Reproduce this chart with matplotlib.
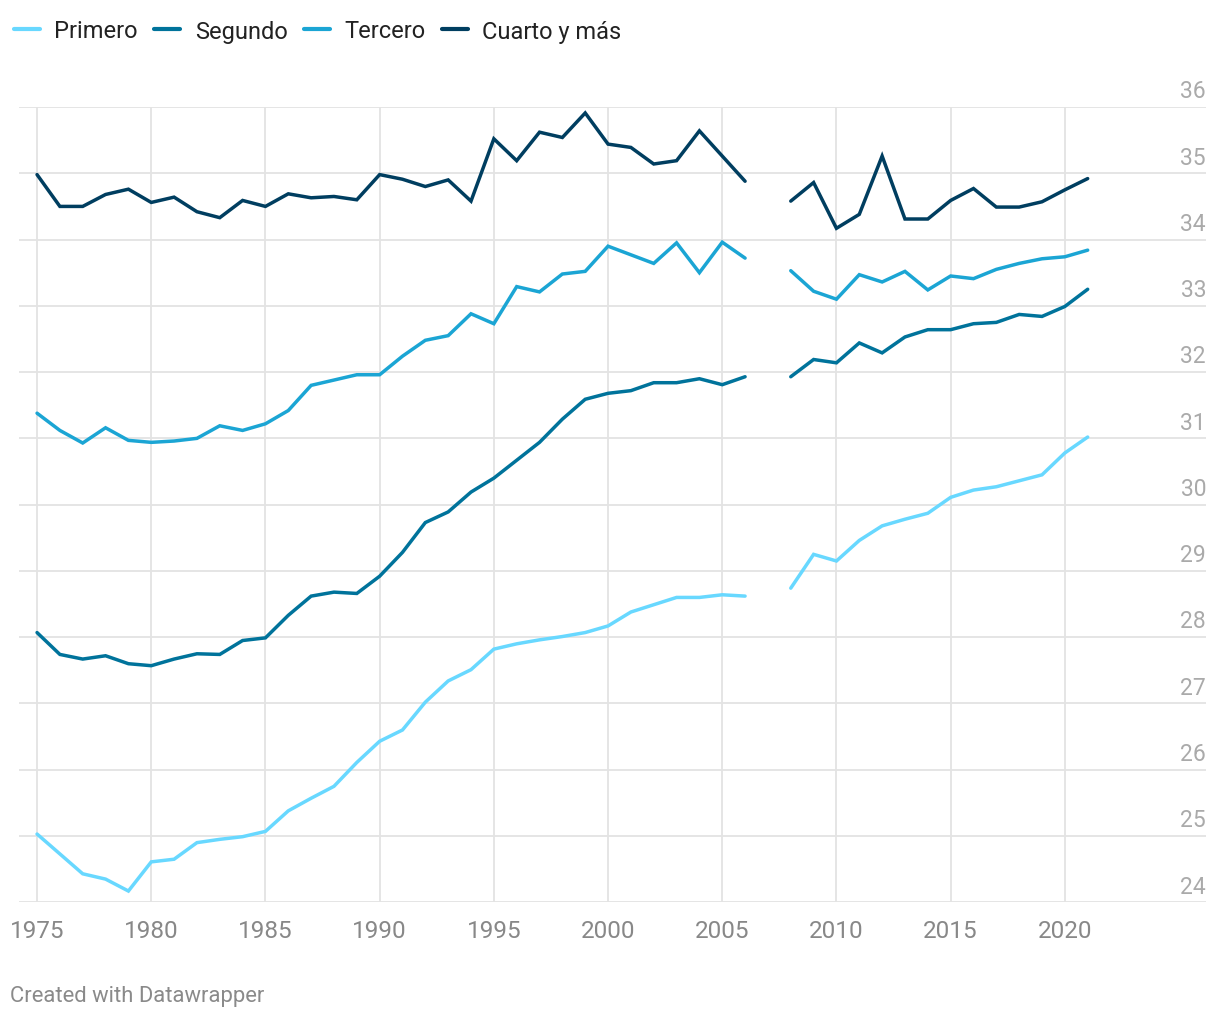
import numpy as np
import matplotlib
matplotlib.use("Agg")
import matplotlib.pyplot as plt

plt.rcParams['font.family'] = ['Roboto', 'DejaVu Sans']

years = list(range(1975, 2022))
nan = np.nan

primero = [25.03, 24.73, 24.43, 24.35, 24.17, 24.61, 24.65, 24.90, 24.95, 24.99,
           25.07, 25.38, 25.57, 25.75, 26.11, 26.43, 26.60, 27.02, 27.34, 27.51,
           27.82, 27.90, 27.96, 28.01, 28.07, 28.17, 28.38, 28.49, 28.60, 28.60,
           28.64, 28.62, nan, 28.74, 29.25, 29.15, 29.46, 29.68, 29.78, 29.87,
           30.11, 30.22, 30.27, 30.36, 30.45, 30.78, 31.02]

segundo = [28.07, 27.74, 27.67, 27.72, 27.60, 27.57, 27.67, 27.75, 27.74, 27.95,
           27.99, 28.33, 28.62, 28.68, 28.66, 28.92, 29.28, 29.73, 29.89, 30.19,
           30.40, 30.67, 30.94, 31.29, 31.59, 31.68, 31.72, 31.84, 31.84, 31.90,
           31.81, 31.93, nan, 31.93, 32.19, 32.14, 32.44, 32.29, 32.53, 32.64,
           32.64, 32.73, 32.75, 32.87, 32.84, 32.99, 33.25]

tercero = [31.38, 31.12, 30.93, 31.16, 30.97, 30.94, 30.96, 31.00, 31.19, 31.12,
           31.22, 31.42, 31.80, 31.88, 31.96, 31.96, 32.24, 32.48, 32.55, 32.88,
           32.73, 33.29, 33.21, 33.48, 33.52, 33.90, 33.77, 33.64, 33.95, 33.50,
           33.96, 33.72, nan, 33.53, 33.22, 33.10, 33.47, 33.36, 33.52, 33.24,
           33.45, 33.41, 33.55, 33.64, 33.71, 33.74, 33.84]

cuarto = [34.98, 34.50, 34.50, 34.68, 34.76, 34.56, 34.64, 34.42, 34.33, 34.59,
          34.50, 34.69, 34.63, 34.65, 34.60, 34.98, 34.91, 34.80, 34.90, 34.58,
          35.52, 35.19, 35.62, 35.54, 35.91, 35.44, 35.39, 35.14, 35.19, 35.64,
          35.26, 34.88, nan, 34.58, 34.86, 34.17, 34.38, 35.26, 34.31, 34.31,
          34.59, 34.77, 34.49, 34.49, 34.57, 34.75, 34.92]

series_names = ["Primero", "Segundo", "Tercero", "Cuarto y más"]
series_colors = ["#68d8ff", "#00739b", "#1ba5d4", "#003e60"]
x_ticks = [1975, 1980, 1985, 1990, 1995, 2000, 2005, 2010, 2015, 2020]
y_ticks = [24, 25, 26, 27, 28, 29, 30, 31, 32, 33, 34, 35, 36]

W, H = 1220, 1020
fig = plt.figure(figsize=(W / 100, H / 100), dpi=100)
left, right = 19 / W, 1206 / W
bottom, top = (H - 903.3) / H, (H - 108) / H
ax = fig.add_axes([left, bottom, right - left, top - bottom])

ax.set_xlim(1974.21, 2026.18)
ax.set_ylim(24, 36)

for name, col, vals in zip(series_names, series_colors, [primero, segundo, tercero, cuarto]):
    ax.plot(years, vals, color=col, lw=2.5, label=name, solid_capstyle='round',
            solid_joinstyle='miter', zorder=3)

grid_col = "#e3e3e3"
ax.set_yticks(y_ticks)
ax.set_yticklabels([])
ax.set_xticks(x_ticks)
ax.set_xticklabels([str(t) for t in x_ticks], color="#888888", fontsize=17.5)
ax.tick_params(axis='x', length=0, pad=12)
ax.tick_params(axis='y', length=0)
ax.grid(True, color=grid_col, lw=1.3, zorder=0)
for s in ax.spines.values():
    s.set_visible(False)

for t in y_ticks:
    ax.annotate(str(t), xy=(1.0, t), xycoords=('axes fraction', 'data'),
                xytext=(0, 7), textcoords='offset points',
                ha='right', va='baseline', color="#aaaaaa", fontsize=16.5)

handles, labels = ax.get_legend_handles_labels()
leg = fig.legend(handles, labels, loc='center left', bbox_to_anchor=(0.004, 1 - 32 / H),
                 ncol=4, frameon=False, fontsize=17, handlelength=1.1,
                 handletextpad=0.6, columnspacing=0.7, borderaxespad=0)
for txt in leg.get_texts():
    txt.set_color("#222222")
for ln in leg.get_lines():
    ln.set_linewidth(3.0)

fig.text(10 / W, 1 - 997 / H, "Created with Datawrapper", color="#8a8a8a",
         fontsize=15.8, ha='left', va='center')

fig.savefig("out.png", dpi=100, facecolor='white')
